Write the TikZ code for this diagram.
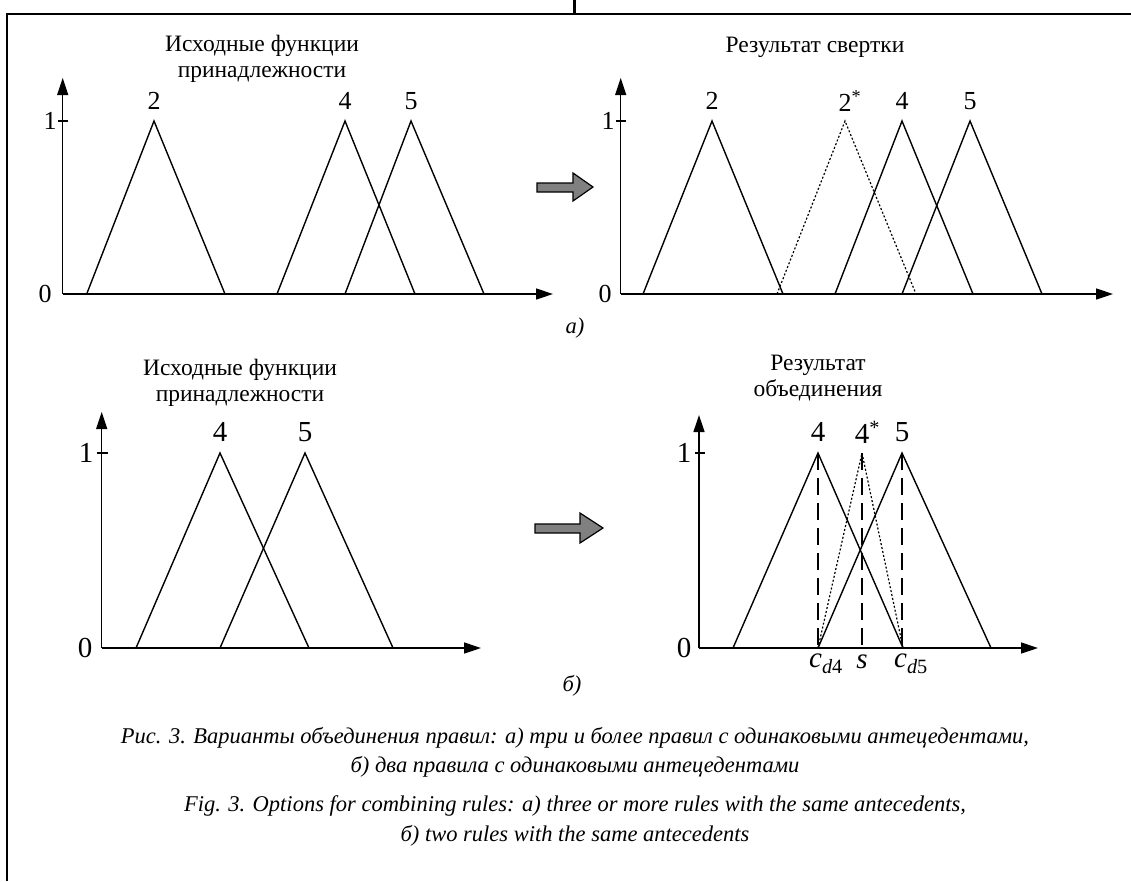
\documentclass[tikz,border=0pt]{standalone}
\usepackage{fontspec}
\setmainfont{Liberation Serif}
\usetikzlibrary{arrows.meta}
\begin{document}
\begin{tikzpicture}[x=1pt,y=-1pt,
  mf/.style={line width=1.4pt, line join=miter},
  axisline/.style={line width=1.4pt,-{Triangle[length=17pt,width=11pt]}},
  dotln/.style={line width=1.2pt, dash pattern=on 2pt off 2pt},
  dshln/.style={line width=1.4pt, dash pattern=on 17pt off 8pt},
  lbl/.style={font=\fontsize{26}{30}\selectfont, inner sep=0pt},
  biglbl/.style={font=\fontsize{29}{33}\selectfont, inner sep=0pt},
  ttl/.style={font=\fontsize{23.5}{26}\selectfont, inner sep=0pt, align=center},
  captext/.style={font=\fontsize{22.5}{26}\selectfont\itshape, inner sep=0pt},
  blockarrow/.style={fill=black!50, draw=black, line width=1.2pt, line join=miter}]
\useasboundingbox (0,0) rectangle (1131,881);
% frame
\draw[line width=1.3pt] (1131,14) -- (7,14) -- (7,881);
\draw[line width=3pt] (574,0) -- (574,14);

% ===== Plot A =====
\draw[axisline] (62.7,294) -- (62.7,78);
\draw[axisline] (62.7,294) -- (553,294);
\draw[mf] (58,121) -- (68,121);
\node[lbl] (a1) at (50,121) {1};
\node[lbl] (a0) at (45,294) {0};
\draw[mf] (86.7,294) -- (154,121) -- (225,294);
\draw[mf] (277,294) -- (345,121) -- (415,294);
\draw[mf] (345,294) -- (411,121) -- (484,294);
\node[lbl] (a2) at (154,101) {2};
\node[lbl] (a4) at (345,101) {4};
\node[lbl] (a5) at (411,101) {5};
\node[ttl] (ta) at (262,59) {Исходные функции\\принадлежности};

% block arrow 1
\draw[blockarrow] (537,183) -- (573,183) -- (573,173) -- (593,187) -- (573,201) -- (573,192) -- (537,192) -- cycle;
\node[captext] (la) at (575,328) {а)};

% ===== Plot B =====
\draw[axisline] (620.7,294) -- (620.7,78);
\draw[axisline] (620.7,294) -- (1113,294);
\draw[mf] (616,121) -- (626,121);
\node[lbl] (b1) at (608,121) {1};
\node[lbl] (b0) at (605,294) {0};
\draw[mf] (643,294) -- (712,121) -- (783,294);
\draw[dotln] (777,294) -- (845,121) -- (916,294);
\draw[mf] (835,294) -- (902,121) -- (973,294);
\draw[mf] (902,294) -- (970,121) -- (1042,294);
\node[lbl] (b2) at (712,101) {2};
\node[lbl] (b2s) at (845,101) {2\rlap{\textsuperscript{*}}};
\node[lbl] (b4) at (902,101) {4};
\node[lbl] (b5) at (970,101) {5};
\node[ttl] (tb) at (815,47) {Результат свертки};

% ===== Plot C =====
\draw[axisline] (101.7,648) -- (101.7,412);
\draw[axisline] (101.7,648) -- (481,648);
\draw[mf] (97,453) -- (108,453);
\node[biglbl] (c1) at (86,453) {1};
\node[biglbl] (c0) at (85,648) {0};
\draw[mf] (136,648) -- (220,453) -- (309,648);
\draw[mf] (220,648) -- (305,453) -- (393,648);
\node[biglbl] (c4) at (220,432) {4};
\node[biglbl] (c5) at (305,432) {5};
\node[ttl] (tc) at (240,383) {Исходные функции\\принадлежности};

% block arrow 2
\draw[blockarrow] (535,524) -- (580,524) -- (580,513) -- (603,528) -- (580,543) -- (580,533) -- (535,533) -- cycle;
\node[captext] (lb) at (572,686) {б)};

% ===== Plot D =====
\draw[axisline] (699,648) -- (699,415);
\draw[axisline] (699,648) -- (1038,648);
\draw[mf] (695,453) -- (705,453);
\node[biglbl] (d1) at (684,453) {1};
\node[biglbl] (d0) at (684,648) {0};
\draw[mf] (733,648) -- (818,453) -- (903,648);
\draw[mf] (818,648) -- (902,453) -- (991,648);
\draw[dotln] (818,648) -- (862,453) -- (903,648);
\draw[dshln] (818,453) -- (818,648);
\draw[dshln] (862,453) -- (862,648);
\draw[dshln] (902,453) -- (902,648);
\node[biglbl] (d4) at (818,432) {4};
\node[biglbl] (d4s) at (862,432) {4\rlap{\textsuperscript{*}}};
\node[biglbl] (d5) at (902,432) {5};
\node[biglbl] (dc4) at (826,664) {\textit{c}\textsubscript{\textit{d}4}};
\node[biglbl] (ds) at (862,662) {\textit{s}};
\node[biglbl] (dc5) at (911,664) {\textit{c}\textsubscript{\textit{d}5}};
\node[ttl] (td) at (818,378) {Результат\\объединения};

% ===== Captions =====
\node[captext] (cap1) at (575,738) {Рис. 3. Варианты объединения правил: а) три и более правил с одинаковыми антецедентами,};
\node[captext] (cap2) at (575,767) {б) два правила с одинаковыми антецедентами};
\node[captext] (cap3) at (575,806) {Fig. 3. Options for combining rules: a) three or more rules with the same antecedents,};
\node[captext] (cap4) at (575,836) {б) two rules with the same antecedents};
\end{tikzpicture}
\end{document}
